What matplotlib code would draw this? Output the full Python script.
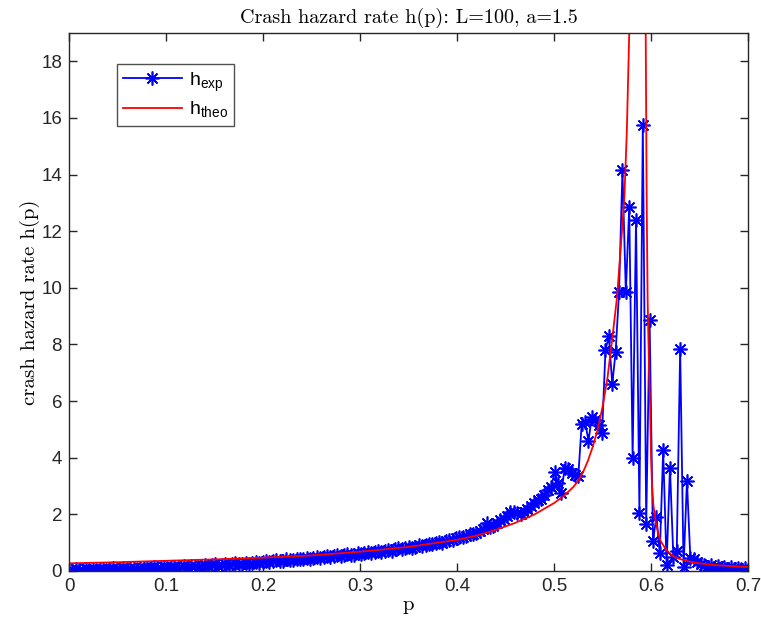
import numpy as np
import matplotlib
matplotlib.use("Agg")
import matplotlib.pyplot as plt

# sample grid of the simulation (201 points, 0 .. 0.7)
p_exp = np.linspace(0, 0.7, 201)

h_exp = [
    # 0 .. 0.1
    0.05, 0.04, 0.06, 0.03, 0.05, 0.06, 0.04, 0.07, 0.05, 0.06, 0.08, 0.05, 0.07, 0.09, 0.06,
    0.08, 0.10, 0.07, 0.09, 0.11, 0.08, 0.10, 0.12, 0.09, 0.11, 0.13, 0.10, 0.12, 0.14,
    # 0.1 .. 0.2
    0.11, 0.13, 0.15, 0.12, 0.14, 0.17, 0.14, 0.16, 0.19, 0.15, 0.18, 0.21, 0.17, 0.20, 0.23,
    0.19, 0.22, 0.25, 0.21, 0.24, 0.27, 0.23, 0.26, 0.29, 0.26, 0.28, 0.31, 0.29, 0.32,
    # 0.2 .. 0.3
    0.35, 0.31, 0.34, 0.38, 0.35, 0.37, 0.41, 0.38, 0.40, 0.44, 0.41, 0.43, 0.47, 0.44, 0.46,
    0.50, 0.47, 0.49, 0.53, 0.50, 0.52, 0.56, 0.53, 0.55, 0.59, 0.56, 0.58, 0.62, 0.60,
    # 0.3 .. 0.4
    0.63, 0.67, 0.64, 0.66, 0.70, 0.68, 0.71, 0.75, 0.72, 0.76, 0.80, 0.77, 0.81, 0.85,
    0.82, 0.86, 0.91, 0.88, 0.92, 0.97, 0.94, 0.98, 1.03, 1.00, 1.05, 1.10, 1.08,
    # 0.4 .. 0.52
    1.15, 1.2, 1.2, 1.25, 1.3, 1.3, 1.35, 1.4, 1.5, 1.7, 1.55, 1.6, 1.7, 1.8, 1.85, 1.95,
    2.1, 2.1, 2.05, 2.0, 2.1, 2.2, 2.3, 2.4, 2.5, 2.55, 2.7, 2.85, 2.95, 3.5, 3.1, 2.75,
    3.65, 3.6, 3.45, 3.4,
    # 0.525 .. 0.644 (peak)
    3.35, 5.2, 5.25, 4.6, 5.45, 5.35, 5.15, 4.87, 7.8, 8.3, 6.6, 7.75, 9.85, 14.15, 9.85,
    12.85, 4.0, 12.4, 2.05, 15.75, 1.65, 8.85, 1.07, 1.91, 0.62, 4.26, 0.22, 3.65, 0.48,
    0.72, 7.85, 0.13, 3.18, 0.45, 0.42,
    # tail
    0.3, 0.25, 0.2, 0.15, 0.22, 0.12, 0.18, 0.1, 0.15, 0.08, 0.13, 0.07, 0.1, 0.06, 0.09, 0.05,
]

# theoretical curve, left branch (below the singularity)
p_theo_l = [0, 0.05, 0.1, 0.15, 0.2, 0.25, 0.3, 0.35, 0.4, 0.42, 0.44, 0.46, 0.48, 0.49,
            0.5, 0.51, 0.52, 0.525, 0.53, 0.535, 0.54, 0.545, 0.55, 0.555, 0.56, 0.565,
            0.57, 0.5725, 0.575, 0.5775, 0.579]
h_theo_l = [0.27, 0.31, 0.36, 0.41, 0.47, 0.55, 0.68, 0.85, 1.1, 1.25, 1.45, 1.7, 2.0, 2.2,
            2.4, 2.65, 2.97, 3.2, 3.5, 3.9, 4.4, 5.0, 5.8, 6.8, 8.2, 9.7,
            12.0, 13.2, 15.5, 19.0, 21.0]
# right branch (above the singularity)
p_theo_r = [0.594, 0.5945, 0.5955, 0.5965, 0.598, 0.599, 0.6, 0.601, 0.6025, 0.605, 0.608,
            0.61, 0.615, 0.62, 0.625, 0.63, 0.64, 0.65, 0.66, 0.67, 0.68, 0.69, 0.7]
h_theo_r = [21.0, 18.9, 13.0, 9.5, 7.0, 5.8, 4.0, 3.0, 2.3, 1.7, 1.25,
            1.05, 0.78, 0.6, 0.48, 0.42, 0.33, 0.27, 0.23, 0.2, 0.18, 0.16, 0.14]

xticks = [0, 0.1, 0.2, 0.3, 0.4, 0.5, 0.6, 0.7]
xticklabels = ["0", "0.1", "0.2", "0.3", "0.4", "0.5", "0.6", "0.7"]
yticks = list(range(0, 19, 2))

plt.rcParams['font.family'] = ['Liberation Sans', 'DejaVu Sans']

fig = plt.figure(figsize=(7.61, 6.35), dpi=100)
ax = fig.add_axes([0.0907, 0.1008, 0.983 - 0.0907, 0.948 - 0.1008])

# MATLAB-style asterisk: 8 spokes
star = (8, 2, 0)
ax.plot(p_exp, h_exp, color=(0, 0, 1), lw=1.3, marker=star, ms=10, mew=1.2,
        label=r'h$_\mathregular{exp}$')
ax.plot(p_theo_l, h_theo_l, color=(1, 0, 0), lw=1.3, label=r'h$_\mathregular{theo}$')
ax.plot(p_theo_r, h_theo_r, color=(1, 0, 0), lw=1.3)

ax.set_xlim(0, 0.7)
ax.set_ylim(0, 19)
ax.set_xticks(xticks)
ax.set_xticklabels(xticklabels)
ax.set_yticks(yticks)
ax.tick_params(direction='in', length=6, width=1, top=True, right=True,
               labelsize=13.5, colors='0.15', pad=5)
for s in ax.spines.values():
    s.set_color('0.15')
    s.set_linewidth(1)

ax.set_title('Crash hazard rate h(p): L=100, a=1.5', family='cmr10', fontsize=14.5, pad=7)
ax.set_xlabel('p', family='cmr10', fontsize=15, labelpad=1)
ax.set_ylabel('crash hazard rate h(p)', family='cmr10', fontsize=15, labelpad=1)

leg = ax.legend(loc='upper left', bbox_to_anchor=(0.057, 0.96), numpoints=1,
                fancybox=False, edgecolor='0.15', fontsize=14, handlelength=3.0,
                borderpad=0.3, labelspacing=0.3, handletextpad=0.4)
leg.get_frame().set_linewidth(1)

fig.savefig('out.png', dpi=100)
